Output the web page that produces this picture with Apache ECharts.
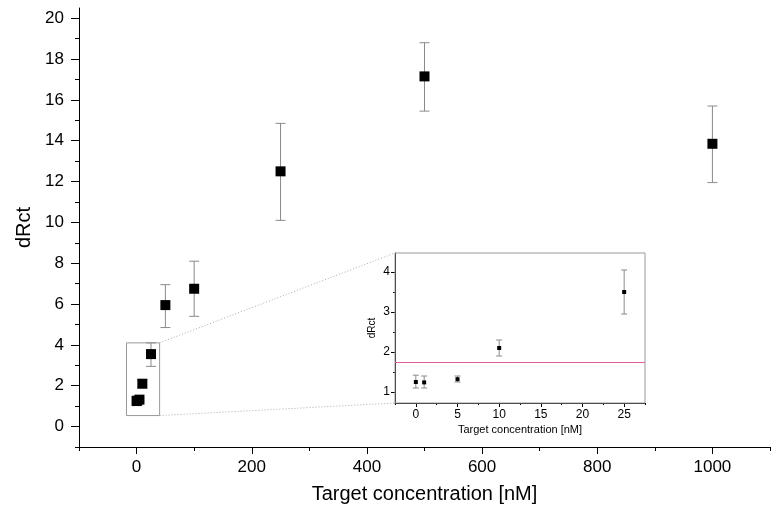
<!DOCTYPE html>
<html><head><meta charset="utf-8">
<script src="https://cdn.jsdelivr.net/npm/echarts@6/dist/echarts.min.js"></script>
<style>html,body{margin:0;padding:0;background:#fff}#c{width:771px;height:520px}</style>
</head><body><div id="c"></div>
<script>
// Main data
const conc = [0, 1, 5, 10, 25, 50, 100, 250, 500, 1000];
const dRct = [1.25, 1.27, 1.32, 2.1, 3.55, 5.95, 6.75, 12.5, 17.15, 13.85];
const errLow = [1.1, 1.12, 1.25, 1.9, 2.95, 4.85, 5.4, 10.1, 15.45, 11.95];
const errHigh = [1.42, 1.4, 1.4, 2.3, 4.1, 6.95, 8.1, 14.85, 18.8, 15.7];
// Inset data
const insetConc = [0, 1, 5, 10, 25];
const insetVal = [1.25, 1.24, 1.32, 2.1, 3.5];
const insetLow = [1.1, 1.1, 1.25, 1.9, 2.95];
const insetHigh = [1.42, 1.4, 1.4, 2.3, 4.05];
const threshold = 1.75;
// Zoom box in main data coords
const zoomBoxX = [-17.5, 40];
const zoomBoxY = [0.54, 4.1];
// Tick values
const mainXMajor = [0, 200, 400, 600, 800, 1000];
const mainXMinor = [-100, 100, 300, 500, 700, 900, 1100];
const mainYMajor = [0, 2, 4, 6, 8, 10, 12, 14, 16, 18, 20];
const mainYMinor = [-1, 1, 3, 5, 7, 9, 11, 13, 15, 17, 19];
const insetXMajor = [0, 5, 10, 15, 20, 25];
const insetXMinor = [-2.5, 2.5, 7.5, 12.5, 17.5, 22.5, 27.5];
const insetYMajor = [1, 2, 3, 4];
const insetYMinor = [1.5, 2.5, 3.5];

const font = 'Liberation Sans, Arial, sans-serif';
const pts = conc.map((x, i) => [x, dRct[i]]);
const errs = conc.map((x, i) => [x, errLow[i], errHigh[i]]);
const ipts = insetConc.map((x, i) => [x, insetVal[i]]);
const ierrs = insetConc.map((x, i) => [x, insetLow[i], insetHigh[i]]);

function errRender(cap) {
  return function (params, api) {
    const x = api.value(0);
    const lo = api.coord([x, api.value(1)]);
    const hi = api.coord([x, api.value(2)]);
    const st = { stroke: '#8a8a8a', lineWidth: 1 };
    return { type: 'group', children: [
      { type: 'line', shape: { x1: lo[0], y1: lo[1], x2: hi[0], y2: hi[1] }, style: st },
      { type: 'line', shape: { x1: lo[0] - cap, y1: lo[1], x2: lo[0] + cap, y2: lo[1] }, style: st },
      { type: 'line', shape: { x1: hi[0] - cap, y1: hi[1], x2: hi[0] + cap, y2: hi[1] }, style: st }
    ]};
  };
}

function tickAxis(grid, pos, min, max, values, len) {
  return {
    gridIndex: grid, type: 'value', position: pos, min: min, max: max,
    axisLine: { show: false, onZero: false },
    axisTick: { show: true, length: len, customValues: values, lineStyle: { color: '#000' } },
    splitLine: { show: false },
    axisLabel: { show: false }
  };
}
function axis(grid, pos, min, max, major, minor, majLen, minLen, labelSize, margin, nameCfg) {
  const main = {
    gridIndex: grid, type: 'value', position: pos, min: min, max: max,
    axisLine: { show: true, onZero: false, lineStyle: { color: '#000', width: 1 } },
    axisTick: { show: false },
    splitLine: { show: false },
    axisLabel: { fontFamily: font, fontSize: labelSize, color: '#000', margin: margin,
      customValues: major, formatter: v => String(v) }
  };
  Object.assign(main, nameCfg);
  return [main, tickAxis(grid, pos, min, max, major, majLen), tickAxis(grid, pos, min, max, minor, minLen)];
}

const mx = axis(0, 'bottom', -100, 1100, mainXMajor, mainXMinor, 7, 4, 17, 12,
  { name: 'Target concentration [nM]', nameLocation: 'middle', nameGap: 37,
    nameTextStyle: { fontFamily: font, fontSize: 20, color: '#000' } });
const ix = axis(1, 'bottom', -2.5, 27.5, insetXMajor, insetXMinor, 4, 2, 12, 6,
  { name: 'Target concentration [nM]', nameLocation: 'middle', nameGap: 21,
    nameTextStyle: { fontFamily: font, fontSize: 11, color: '#000' } });
const my = axis(0, 'left', -1, 20.5, mainYMajor, mainYMinor, 8, 4, 17, 15,
  { name: 'dRct', nameLocation: 'middle', nameGap: 42,
    nameTextStyle: { fontFamily: font, fontSize: 20, color: '#000' } });
const iy = axis(1, 'left', 0.725, 4.475, insetYMajor, insetYMinor, 4, 2, 12, 5,
  { name: 'dRct', nameLocation: 'middle', nameGap: 18,
    nameTextStyle: { fontFamily: font, fontSize: 10, color: '#000' } });

const chart = echarts.init(document.getElementById('c'));
chart.setOption({
  animation: false,
  grid: [
    { left: 79, right: 1, top: 8, bottom: 73 },
    { left: 395, right: 126, top: 253, bottom: 117 }
  ],
  xAxis: [mx[0], ix[0], mx[1], mx[2], ix[1], ix[2]],
  yAxis: [my[0], iy[0], my[1], my[2], iy[1], iy[2]],
  series: [
    { type: 'custom', xAxisIndex: 0, yAxisIndex: 0, data: errs, renderItem: errRender(5), z: 2 },
    { type: 'scatter', xAxisIndex: 0, yAxisIndex: 0, data: pts, symbol: 'rect', symbolSize: 10,
      itemStyle: { color: '#000', opacity: 1 }, z: 3 },
    { type: 'custom', xAxisIndex: 1, yAxisIndex: 1, data: ierrs, renderItem: errRender(3), z: 2 },
    { type: 'scatter', xAxisIndex: 1, yAxisIndex: 1, data: ipts, symbol: 'rect', symbolSize: 4,
      itemStyle: { color: '#000', opacity: 1 }, z: 3,
      markLine: { silent: true, symbol: 'none', label: { show: false },
        lineStyle: { color: '#e0609f', type: 'solid', width: 1 },
        data: [{ yAxis: threshold }] } }
  ]
});

// Inset frame, zoom box, connector lines
const insetTL = chart.convertToPixel({ xAxisIndex: 1, yAxisIndex: 1 }, [-2.5, 4.475]);
const insetBR = chart.convertToPixel({ xAxisIndex: 1, yAxisIndex: 1 }, [27.5, 0.725]);
const boxTL = chart.convertToPixel({ xAxisIndex: 0, yAxisIndex: 0 }, [zoomBoxX[0], zoomBoxY[1]]);
const boxBR = chart.convertToPixel({ xAxisIndex: 0, yAxisIndex: 0 }, [zoomBoxX[1], zoomBoxY[0]]);
chart.setOption({
  graphic: [
    { type: 'rect', shape: { x: insetTL[0], y: insetTL[1], width: insetBR[0] - insetTL[0], height: insetBR[1] - insetTL[1] },
      style: { stroke: '#999', fill: 'none', lineWidth: 1 }, z: 1 },
    { type: 'rect', shape: { x: boxTL[0], y: boxTL[1], width: boxBR[0] - boxTL[0], height: boxBR[1] - boxTL[1] },
      style: { stroke: '#999', fill: 'none', lineWidth: 1 }, z: 1 },
    { type: 'line', shape: { x1: boxBR[0], y1: boxTL[1], x2: insetTL[0], y2: insetTL[1] },
      style: { stroke: '#aaa', lineWidth: 1, lineDash: [1, 2] }, z: 1 },
    { type: 'line', shape: { x1: boxBR[0], y1: boxBR[1], x2: insetTL[0], y2: insetBR[1] },
      style: { stroke: '#aaa', lineWidth: 1, lineDash: [1, 2] }, z: 1 }
  ]
});
</script></body></html>
